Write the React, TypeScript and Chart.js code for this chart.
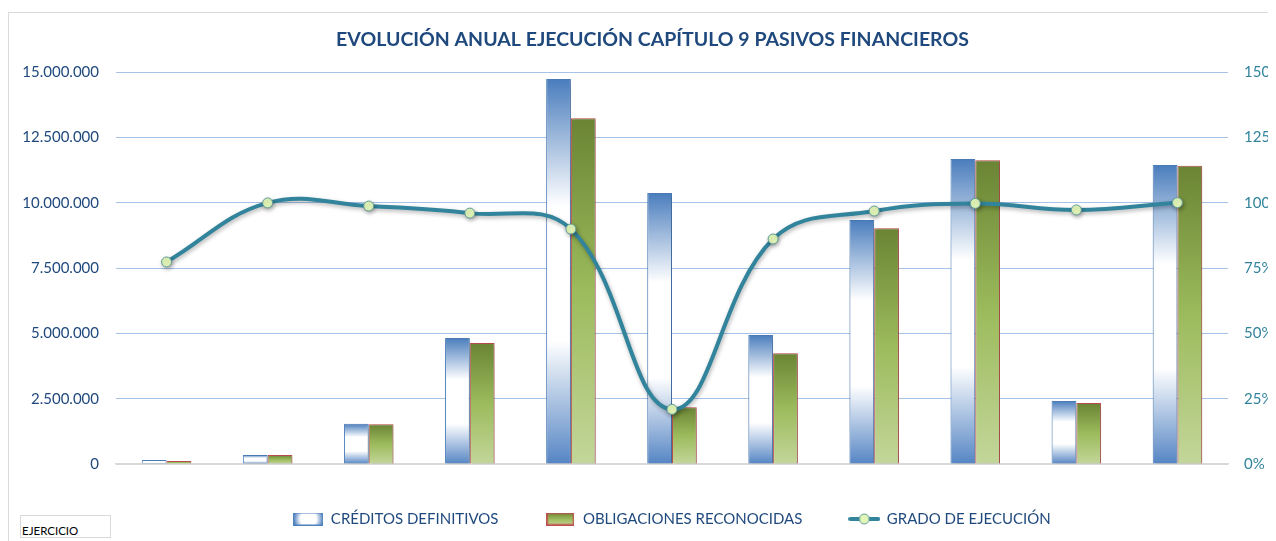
import React, { useEffect, useRef } from "react";
import { Chart, registerables } from "chart.js";

Chart.register(...registerables);

const TITLE = "EVOLUCIÓN ANUAL EJECUCIÓN CAPÍTULO 9 PASIVOS FINANCIEROS";
const YEARS = ["2009", "2010", "2011", "2012", "2013", "2014", "2015", "2016", "2017", "2018", "2019"];
const CREDITOS = [150000, 344000, 1540000, 4820000, 14730000, 10370000, 4940000, 9340000, 11670000, 2410000, 11440000];
const OBLIGACIONES = [115000, 340000, 1520000, 4630000, 13230000, 2170000, 4240000, 9020000, 11620000, 2330000, 11410000];
const GRADO = [77.3, 99.9, 98.7, 96.0, 89.9, 20.9, 86.1, 96.8, 99.7, 97.2, 100.0];
const SERIES_LABELS = ["CRÉDITOS DEFINITIVOS", "OBLIGACIONES RECONOCIDAS", "GRADO DE EJECUCIÓN"];
const LEFT_MAX = 15000000;
const LEFT_STEP = 2500000;
const RIGHT_MAX = 150;
const RIGHT_STEP = 25;
const CORNER_LABEL = "EJERCICIO";

const FONT = 'Lato, "Open Sans", "Noto Sans", sans-serif';
const W = 1300;
const H = 533;

const fmt = (v: number) => String(v).replace(/\B(?=(\d{3})+(?!\d))/g, ".");

const CRED_STOPS: [number, string][] = [
  [0, "#4a7dbd"],
  [0.33, "#ffffff"],
  [0.68, "#ffffff"],
  [1, "#5585c4"],
];
const OBL_STOPS: [number, string][] = [
  [0, "#6a8434"],
  [0.5, "#9cbb5c"],
  [1, "#c3d69a"],
];

function barGradient(ctx: any, stops: [number, string][], fallback: string) {
  const chart = ctx.chart;
  if (!chart.chartArea || ctx.type !== "data") return fallback;
  const yS = chart.scales.y;
  const v = ctx.raw as number;
  const top = yS.getPixelForValue(v);
  const base = yS.getPixelForValue(0);
  if (!isFinite(top) || !isFinite(base) || base - top < 1) return fallback;
  const g = chart.ctx.createLinearGradient(0, top, 0, base);
  stops.forEach(([o, c]) => g.addColorStop(o, c));
  return g;
}

function makeIcon(kind: number): HTMLCanvasElement {
  const c = document.createElement("canvas");
  const g = c.getContext("2d")!;
  if (kind === 0) {
    c.width = 30;
    c.height = 13;
    const rg = g.createRadialGradient(15, 6.5, 1, 15, 6.5, 15);
    rg.addColorStop(0, "#ffffff");
    rg.addColorStop(0.5, "#ffffff");
    rg.addColorStop(1, "#4a7dbd");
    g.fillStyle = rg;
    g.fillRect(0, 0, 30, 13);
    g.strokeStyle = "#4f81bd";
    g.lineWidth = 1;
    g.strokeRect(0.5, 0.5, 29, 12);
  } else if (kind === 1) {
    c.width = 28;
    c.height = 13;
    const lg = g.createLinearGradient(0, 0, 0, 13);
    OBL_STOPS.forEach(([o, col]) => lg.addColorStop(o, col));
    g.fillStyle = lg;
    g.fillRect(0, 0, 28, 13);
    g.strokeStyle = "#c0504d";
    g.lineWidth = 1.5;
    g.strokeRect(0.75, 0.75, 26.5, 11.5);
  } else {
    c.width = 32;
    c.height = 12;
    g.strokeStyle = "#31849b";
    g.lineWidth = 4;
    g.lineCap = "round";
    g.beginPath();
    g.moveTo(2, 6);
    g.lineTo(30, 6);
    g.stroke();
    g.beginPath();
    g.arc(16, 6, 5, 0, Math.PI * 2);
    g.fillStyle = "#e2f6b8";
    g.fill();
    g.lineWidth = 1;
    g.strokeStyle = "#5f9c9a";
    g.stroke();
  }
  return c;
}

const shadowPlugin = {
  id: "softShadow",
  beforeDatasetDraw(chart: any, args: any) {
    const ctx = chart.ctx;
    ctx.save();
    if (args.meta.type === "bar") {
      ctx.shadowColor = "rgba(0,0,0,0.22)";
      ctx.shadowBlur = 4;
      ctx.shadowOffsetX = 2;
      ctx.shadowOffsetY = 1;
    } else {
      ctx.shadowColor = "rgba(0,0,0,0.3)";
      ctx.shadowBlur = 4;
      ctx.shadowOffsetX = 1;
      ctx.shadowOffsetY = 2;
    }
  },
  afterDatasetDraw(chart: any) {
    chart.ctx.restore();
  },
};

export default function App() {
  const ref = useRef<HTMLCanvasElement | null>(null);

  useEffect(() => {
    if (!ref.current) return;
    const icons = [makeIcon(0), makeIcon(1), makeIcon(2)];
    const legendPad = 47;
    const legendH = 15 + legendPad + 10;
    const padBottom = 4.5;
    const chartBottom = 456;
    const xH = Math.max(0.5, H - padBottom - legendH - chartBottom);
    const titleSize = 19.5;
    const titleLH = titleSize * 1.2;
    const titleTop = 32 - titleLH / 2;
    const titleBottom = 64 - titleTop - titleLH;

    const chart = new Chart(ref.current, {
      type: "bar",
      data: {
        labels: YEARS,
        datasets: [
          {
            type: "line",
            label: SERIES_LABELS[2],
            data: GRADO,
            yAxisID: "y1",
            borderColor: "#31849b",
            borderWidth: 4,
            tension: 0.4,
            pointRadius: 5,
            pointBackgroundColor: "#e2f6b8",
            pointBorderColor: "#5f9c9a",
            pointBorderWidth: 1,
            order: 0,
          } as any,
          {
            type: "bar",
            label: SERIES_LABELS[0],
            data: CREDITOS,
            yAxisID: "y",
            backgroundColor: (c: any) => barGradient(c, CRED_STOPS, "#a6bfe0"),
            borderColor: "#4f81bd",
            borderWidth: 1,
            categoryPercentage: 0.49,
            barPercentage: 1,
            order: 1,
          },
          {
            type: "bar",
            label: SERIES_LABELS[1],
            data: OBLIGACIONES,
            yAxisID: "y",
            backgroundColor: (c: any) => barGradient(c, OBL_STOPS, "#9cbb5c"),
            borderColor: "#c0504d",
            borderWidth: 1,
            categoryPercentage: 0.49,
            barPercentage: 1,
            order: 1,
          },
        ],
      },
      options: {
        responsive: false,
        animation: false,
        devicePixelRatio: 1,
        font: { family: FONT },
        layout: { padding: { left: 0, right: 11, top: 0, bottom: padBottom } },
        plugins: {
          title: {
            display: true,
            text: TITLE,
            color: "#1f497d",
            font: { family: FONT, size: titleSize, weight: "bold" },
            padding: { top: titleTop, bottom: titleBottom },
          },
          legend: {
            display: true,
            position: "bottom",
            fullSize: false,
            labels: {
              usePointStyle: true,
              pointStyleWidth: 30,
              padding: legendPad,
              color: "#1f497d",
              font: { family: FONT, size: 15 },
              generateLabels: (ch: any) =>
                [1, 2, 0].map((di, k) => ({
                  text: ch.data.datasets[di].label,
                  pointStyle: icons[k],
                  datasetIndex: di,
                  fontColor: "#1f497d",
                  hidden: false,
                  lineWidth: 0,
                  strokeStyle: "rgba(0,0,0,0)",
                  fillStyle: "rgba(0,0,0,0)",
                })),
            },
          },
          tooltip: { enabled: false },
        },
        scales: {
          x: {
            grid: { display: false, drawTicks: false, tickLength: 0 },
            border: { display: true, color: "#d9d9d9", width: 1.5 },
            ticks: { color: "#254a7c", font: { family: FONT, size: 15 }, padding: 14, maxRotation: 0 },
            afterFit: (s: any) => {
              s.height = xH;
            },
          },
          y: {
            position: "left",
            min: 0,
            max: LEFT_MAX,
            grid: {
              drawTicks: false,
              tickLength: 0,
              color: (c: any) => (c.tick && c.tick.value === 0 ? "#d9d9d9" : "#a6c2e8"),
              lineWidth: 1,
            },
            border: { display: false },
            ticks: {
              stepSize: LEFT_STEP,
              color: "#1f497d",
              font: { family: FONT, size: 15 },
              padding: 17,
              callback: (v: any) => fmt(Number(v)),
            },
            afterFit: (s: any) => {
              s.width = 108;
            },
          },
          y1: {
            position: "right",
            min: 0,
            max: RIGHT_MAX,
            grid: { display: false, drawTicks: false, tickLength: 0 },
            border: { display: false },
            ticks: {
              stepSize: RIGHT_STEP,
              color: "#31849b",
              font: { family: FONT, size: 15 },
              padding: 16,
              callback: (v: any) => `${v}%`,
            },
            afterFit: (s: any) => {
              s.width = 69;
            },
          },
        },
      } as any,
      plugins: [shadowPlugin],
    });
    return () => chart.destroy();
  }, []);

  return (
    <div style={{ position: "relative", width: 1268, height: 533, overflow: "hidden" }}>
      <div
        style={{
          position: "absolute",
          left: 0,
          top: 4,
          width: W,
          height: 700,
          border: "1px solid #d9d9d9",
          boxSizing: "border-box",
        }}
      />
      <canvas
        ref={ref}
        width={W}
        height={H}
        style={{ position: "absolute", left: 0, top: 0, width: W, height: H, display: "block" }}
      />
      <div
        style={{
          position: "absolute",
          left: 12,
          top: 507,
          width: 91,
          height: 23,
          border: "1px solid #d9d9d9",
          boxSizing: "border-box",
          fontFamily: FONT,
          fontSize: 11.5,
          color: "#000",
          lineHeight: "12px",
          paddingLeft: 1,
          paddingTop: 9,
          background: "#fff",
        }}
      >
        {CORNER_LABEL}
      </div>
    </div>
  );
}
